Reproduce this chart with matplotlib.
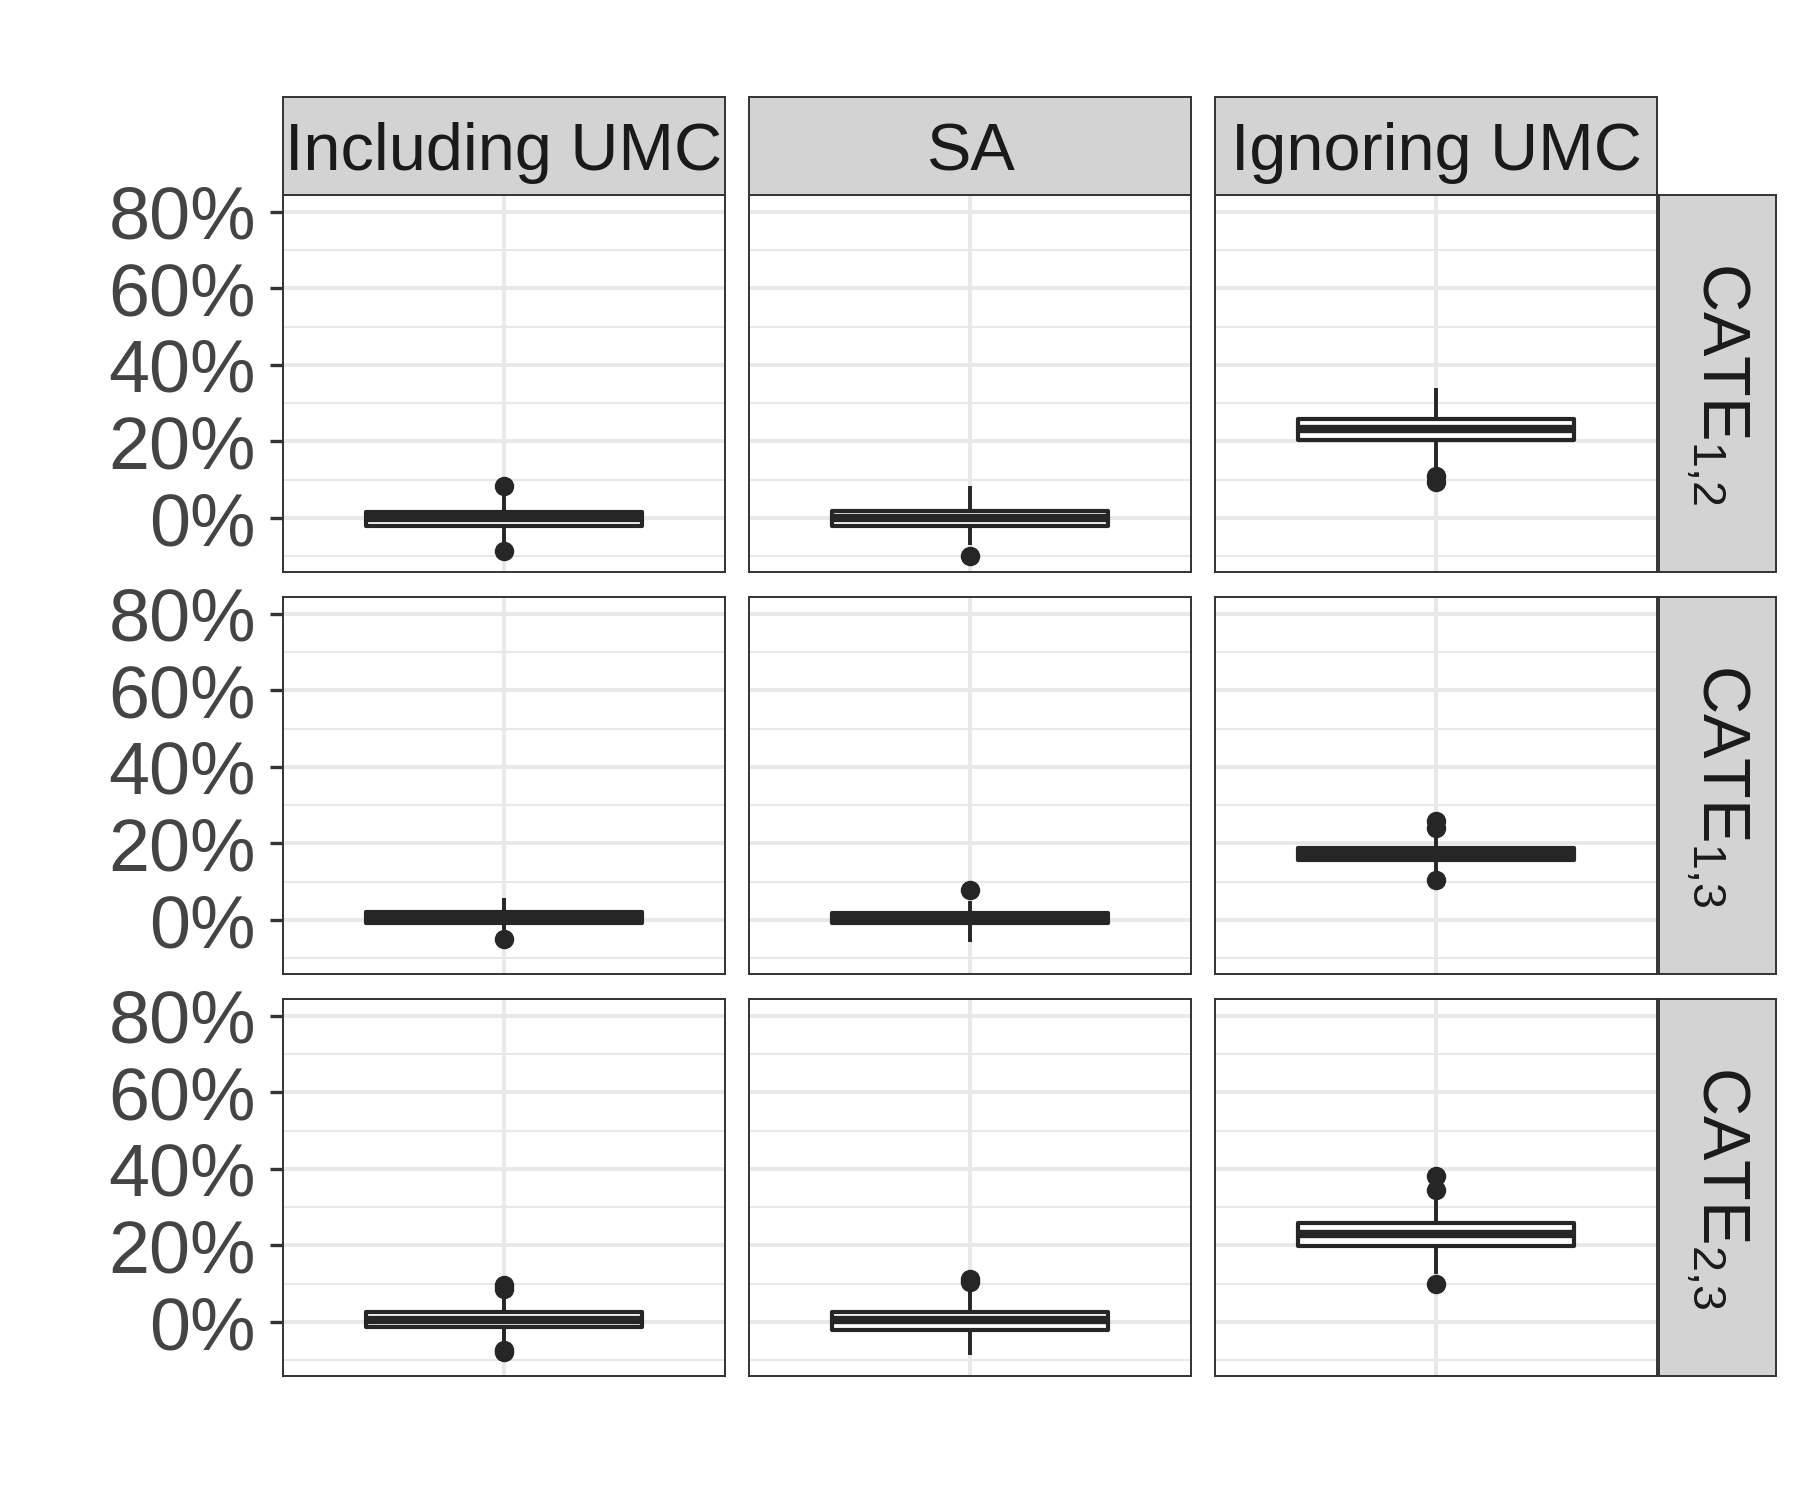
import matplotlib
matplotlib.use("Agg")
import matplotlib.pyplot as plt
from matplotlib.ticker import FuncFormatter

plt.rcParams['font.family'] = ['Liberation Sans', 'DejaVu Sans']
plt.rcParams['mathtext.fontset'] = 'custom'
plt.rcParams['mathtext.rm'] = 'Liberation Sans'
plt.rcParams['mathtext.it'] = 'Liberation Sans'
plt.rcParams['mathtext.default'] = 'regular'

# ---------------- data (percent) ----------------
methods = ["Including UMC", "SA", "Ignoring UMC"]
estimands = [r"CATE$_{1{,}2}$", r"CATE$_{1{,}3}$", r"CATE$_{2{,}3}$"]
# rows = estimands, columns = methods
q1 = [[-2.0, -2.1, 20.5],
      [-0.7, -0.9, 15.8],
      [-1.3, -2.0, 19.9]]
med = [[0.0, -0.1, 23.2],
       [0.8, 0.5, 17.2],
       [0.6, 0.5, 23.0]]
q3 = [[1.7, 1.8, 26.0],
      [2.0, 1.8, 18.7],
      [2.5, 2.7, 26.0]]
whislo = [[-6.5, -7.0, 13.0],
          [-3.0, -5.7, 12.5],
          [-5.0, -8.6, 12.5]]
whishi = [[6.5, 8.4, 33.9],
          [5.7, 5.0, 21.5],
          [6.5, 8.0, 32.0]]
fliers = [[[8.3, -8.6], [-9.9], [11.0, 9.4]],
          [[-5.0], [7.8], [25.8, 24.0, 10.4]],
          [[9.6, 8.6, -7.3, -7.8], [11.2, 10.4], [38.1, 34.4, 9.9]]]
major_ticks = [0, 20, 40, 60, 80]
minor_ticks = [-10, 10, 30, 50, 70]

# ---------------- layout ----------------
W, H = 1800, 1500
fig = plt.figure(figsize=(18, 15), dpi=100)

def rect(x0, y0, x1, y1):
    return [x0 / W, 1 - y1 / H, (x1 - x0) / W, (y1 - y0) / H]

col_x = [(283, 725), (749, 1191), (1215, 1657)]
row_y = [(195, 572), (597, 974), (999, 1376)]
strip_top = (97, 195)
strip_right = (1659, 1776)

dark = '#262626'
border = '#333333'
strip_fill = '#D3D3D3'
grid_col = '#E8E8E8'

for i in range(3):
    for j in range(3):
        ax = fig.add_axes(rect(col_x[j][0], row_y[i][0], col_x[j][1], row_y[i][1]))
        stats = [dict(med=med[i][j], q1=q1[i][j], q3=q3[i][j],
                      whislo=whislo[i][j], whishi=whishi[i][j],
                      fliers=fliers[i][j])]
        ax.bxp(stats, positions=[1], widths=0.75, showcaps=False, patch_artist=True,
               boxprops=dict(facecolor='white', edgecolor=dark, linewidth=3.0,
                             joinstyle='round'),
               medianprops=dict(color=dark, linewidth=6.0, solid_capstyle='butt'),
               whiskerprops=dict(color=dark, linewidth=2.8, solid_capstyle='butt'),
               flierprops=dict(marker='o', markerfacecolor=dark,
                               markeredgecolor=dark, markersize=13))
        ax.set_xlim(0.4, 1.6)
        ax.set_ylim(-14.1, 84.4)
        ax.set_xticks([1])
        ax.set_yticks(major_ticks)
        ax.set_yticks(minor_ticks, minor=True)
        ax.set_axisbelow(True)
        ax.grid(which='major', color=grid_col, linewidth=2.8)
        ax.grid(which='minor', axis='y', color=grid_col, linewidth=1.5)
        ax.tick_params(axis='x', length=0, labelbottom=False)
        ax.tick_params(axis='y', which='minor', length=0)
        if j == 0:
            ax.yaxis.set_major_formatter(FuncFormatter(lambda v, p: f"{v:.0f}%"))
            ax.tick_params(axis='y', which='major', labelsize=53, labelcolor='#444444',
                           length=9.5, width=2.4, color=border, pad=10)
        else:
            ax.tick_params(axis='y', which='major', length=0, labelleft=False)
        for s in ax.spines.values():
            s.set_color(border)
            s.set_linewidth(1.4)

# top strips
for j in range(3):
    sa = fig.add_axes(rect(col_x[j][0], strip_top[0], col_x[j][1], strip_top[1]))
    sa.set_facecolor(strip_fill)
    sa.set_xticks([]); sa.set_yticks([])
    for s in sa.spines.values():
        s.set_color(border); s.set_linewidth(1.4)
    sa.text(0.5, 0.25, methods[j], ha='center', va='baseline', fontsize=48,
            color='#1A1A1A', transform=sa.transAxes)

# right strips
for i in range(3):
    sa = fig.add_axes(rect(strip_right[0], row_y[i][0], strip_right[1], row_y[i][1]))
    sa.set_facecolor(strip_fill)
    sa.set_xticks([]); sa.set_yticks([])
    for s in sa.spines.values():
        s.set_color(border); s.set_linewidth(1.4)
    sa.text(0.37, 0.5, estimands[i], ha='center', va='baseline', rotation=-90,
            rotation_mode='anchor', fontsize=48, color='#1A1A1A',
            transform=sa.transAxes)

fig.savefig("out.png", dpi=100, facecolor='white')
